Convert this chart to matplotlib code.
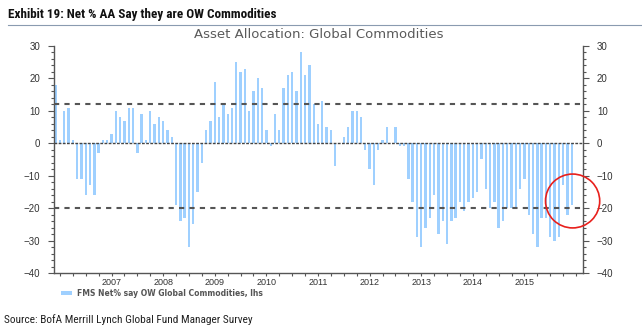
import matplotlib
matplotlib.use('Agg')
import matplotlib.pyplot as plt
import numpy as np
from matplotlib.patches import Ellipse, Rectangle
from matplotlib.lines import Line2D
from matplotlib.ticker import MultipleLocator
from matplotlib import font_manager

# monthly net % say overweight commodities, Dec 2005 - Dec 2015
values = [18, 1, 10, 11, 1, -11, -11, -16, -13, -16, -3, 1,
          1, 3, 10, 8, 7, 11, 11, -3, 9, 1, 10, 6,
          8, 7, 4, 2, -19, -24, -23, -32, -25, -15, -6, 4,
          7, 19, 8, 12, 9, 11, 25, 22, 23, 10, 16, 20,
          17, 4, -1, 9, 4, 17, 21, 22, 16, 28, 21, 24,
          12, 6, 13, 5, 4, -7, 0, 2, 5, 10, 10, 8,
          -2, -8, -13, -2, 1, 5, 0, 5, -1, -1, -11, -18,
          -29, -32, -26, -23, -16, -28, -24, -31, -24, -23, -18, -21,
          -18, -17, -15, -5, -14, -20, -18, -26, -24, -20, -20, -20,
          -14, -11, -22, -28, -32, -23, -23, -29, -30, -29, -13, -22,
          -19]
years = ['2007', '2008', '2009', '2010', '2011', '2012', '2013', '2014', '2015']
upper_band = 12
lower_band = -20

x = np.arange(len(values))
bar_color = '#9fd0ff'
axis_color = '#555555'

# pick a narrow family for the header/footer if one is around
names = {f.name for f in font_manager.fontManager.ttflist}
narrow = 'DejaVu Sans'
for cand in ['Liberation Sans Narrow', 'DejaVu Sans Condensed', 'Roboto Condensed',
             'Open Sans Condensed', 'Noto Sans Display']:
    if cand in names:
        narrow = cand
        break

fig = plt.figure(figsize=(6.42, 3.35), dpi=100)
ax = fig.add_axes([0.084, 0.185, 0.824, 0.678])

ax.bar(x, values, width=0.55, color=bar_color, zorder=2)
ax.axhline(0, color='#444444', lw=1.0, linestyle=(0, (2, 1)), zorder=3)
ax.axhline(upper_band, color='#555555', lw=1.5, linestyle=(0, (2.5, 2.5)), zorder=3)
ax.axhline(lower_band, color='#555555', lw=1.5, linestyle=(0, (2.5, 2.5)), zorder=3)

ax.set_xlim(-0.4, 122.6)
ax.set_ylim(-40, 30)
ax.yaxis.set_major_locator(MultipleLocator(10))
ax.yaxis.set_minor_locator(MultipleLocator(2))
ax.tick_params(axis='y', which='both', left=True, right=True,
               labelleft=True, labelright=True, direction='out',
               colors=axis_color, labelsize=7, width=0.8)
ax.tick_params(axis='y', which='major', length=4, pad=6)
ax.tick_params(axis='y', which='minor', length=2.5)
for lab in ax.get_yticklabels():
    lab.set_fontfamily('Liberation Sans')
    lab.set_color('#333333')

label_pos = [13 + 12 * i for i in range(len(years))]
ax.set_xticks(label_pos)
ax.set_xticklabels(years, fontsize=6.5, color='#333333', family='Liberation Sans')
ax.set_xticks(np.arange(1, len(values) + 2, 3), minor=True)
ax.tick_params(axis='x', which='both', direction='out', length=2.5,
               colors=axis_color, width=0.8, pad=1)
for lab in ax.get_xticklabels():
    lab.set_color('#333333')

ax.spines['top'].set_visible(False)
for s in ['left', 'right', 'bottom']:
    ax.spines[s].set_color(axis_color)
    ax.spines[s].set_linewidth(1.0)

# highlight circle around latest readings
circ = Ellipse((120.2, -17.8), 12.6, 16.6, fill=False, edgecolor='#e8201c',
               lw=1.2, clip_on=False, zorder=5)
ax.add_patch(circ)

# titles
title = fig.text(0.012, 0.958, 'Exhibit 19: Net % AA Say they are OW Commodities',
                 fontsize=10, fontweight='bold', family=narrow, fontstretch='condensed',
                 color='#111111', va='center', ha='left')
fig.add_artist(Line2D([0.012, 1.0], [0.925, 0.925], transform=fig.transFigure,
                      color='#8a9bb0', lw=0.8))
fig.text(0.497, 0.898, 'Asset Allocation: Global Commodities', fontsize=9.5,
         color='#5a5a5a', ha='center', va='center', family='DejaVu Sans')

# legend
leg_handle = Rectangle((0, 0), 1, 1, facecolor=bar_color, edgecolor='none')
fig.legend([leg_handle], ['FMS Net% say OW Global Commodities, lhs'],
           loc='center left', bbox_to_anchor=(0.085, 0.125), frameon=False,
           handlelength=1.4, handleheight=0.5, handletextpad=0.6,
           prop={'size': 5.5, 'family': 'DejaVu Sans', 'weight': 'bold'},
           labelcolor='#555555')

src = fig.text(0.006, 0.045, 'Source: BofA Merrill Lynch Global Fund Manager Survey',
               fontsize=8.2, family=narrow, fontstretch='condensed',
               color='#222222', va='center', ha='left')

# squeeze header/footer to the reference widths when no narrow face exists
fig.canvas.draw()
r = fig.canvas.get_renderer()
for t, target in [(title, 270), (src, 248)]:
    w = t.get_window_extent(r).width
    if w > target * 1.05:
        t.set_fontsize(t.get_fontsize() * max(target / w, 0.8))

fig.savefig('out.png', dpi=100)
